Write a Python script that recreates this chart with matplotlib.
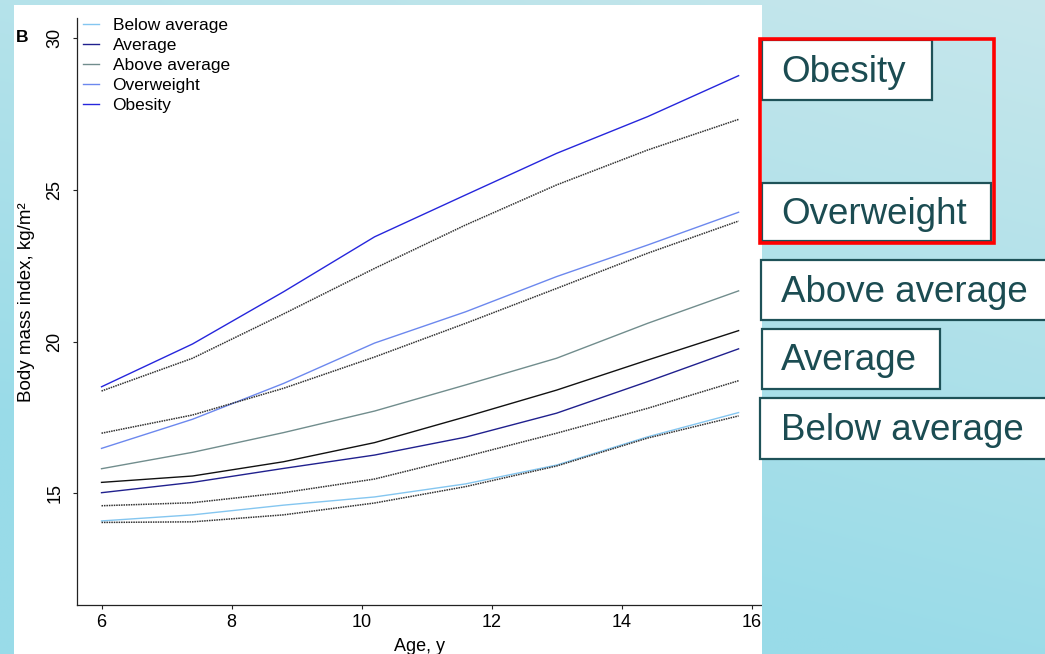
import numpy as np
import matplotlib
matplotlib.use("Agg")
import matplotlib.pyplot as plt
from matplotlib.patches import Rectangle

# ---------------- data ----------------
ages = [6.0, 7.4, 8.8, 10.2, 11.6, 13.0, 14.4, 15.8]

obesity        = [18.51, 19.92, 21.64, 23.45, 24.83, 26.20, 27.41, 28.76]
obesity_ref    = [18.37, 19.45, 20.91, 22.41, 23.84, 25.16, 26.31, 27.32]
overweight     = [16.48, 17.44, 18.62, 19.95, 20.98, 22.14, 23.18, 24.26]
overweight_ref = [16.98, 17.58, 18.46, 19.49, 20.60, 21.75, 22.91, 23.97]
above_average  = [15.81, 16.35, 17.00, 17.71, 18.57, 19.45, 20.60, 21.67]
overall_mean   = [15.36, 15.57, 16.04, 16.67, 17.52, 18.40, 19.39, 20.36]
average        = [15.02, 15.36, 15.82, 16.26, 16.85, 17.64, 18.68, 19.76]
average_ref    = [14.59, 14.69, 15.02, 15.47, 16.21, 16.98, 17.80, 18.71]
below_average  = [14.09, 14.29, 14.61, 14.88, 15.31, 15.93, 16.86, 17.66]
below_ref      = [14.04, 14.06, 14.29, 14.68, 15.22, 15.90, 16.82, 17.55]

legend_labels = ["Below average", "Average", "Above average", "Overweight", "Obesity"]
side_labels = ["Obesity", "Overweight", "Above average", "Average", "Below average"]
x_ticks = [6, 8, 10, 12, 14, 16]
y_ticks = [15, 20, 25, 30]

# ---------------- figure ----------------
W, H = 1045, 654
fig = plt.figure(figsize=(W / 100, H / 100), dpi=100)

REG = ["Liberation Sans", "DejaVu Sans"]
NARROW = ["Liberation Sans Narrow", "Liberation Sans", "DejaVu Sans"]

# gradient background
ny, nx = 160, 240
yy, xx = np.mgrid[0:1:ny * 1j, 0:1:nx * 1j]
t = np.clip(0.85 * yy + 0.35 * (1 - xx) + 0.1, 0, 1)[..., None]
c_light = np.array([0.80, 0.91, 0.925])
c_dark = np.array([0.60, 0.86, 0.91])
grad = c_light * (1 - t) + c_dark * t

bg = fig.add_axes([0, 0, 1, 1], zorder=0)
bg.imshow(grad, extent=(0, W, H, 0), aspect="auto", interpolation="bilinear")
bg.set_xlim(0, W)
bg.set_ylim(H, 0)
bg.axis("off")
bg.add_patch(Rectangle((14, 5), 762 - 14, H - 5, facecolor="white", edgecolor="none"))

# ---------------- main axes ----------------
ax_l, ax_r, ax_t, ax_b = 76.5, 762, 18, 605
ax = fig.add_axes([ax_l / W, 1 - ax_b / H, (ax_r - ax_l) / W, (ax_b - ax_t) / H], zorder=1)
ax.patch.set_alpha(0)

lw = 1.0
dot = (0, (1.0, 0.6))
ax.plot(ages, below_average, color="#84C6F0", lw=lw, label=legend_labels[0])
ax.plot(ages, average, color="#20208E", lw=lw, label=legend_labels[1])
ax.plot(ages, above_average, color="#718D8D", lw=lw, label=legend_labels[2])
ax.plot(ages, overweight, color="#6C88EE", lw=lw, label=legend_labels[3])
ax.plot(ages, obesity, color="#2626DC", lw=lw, label=legend_labels[4])
ax.plot(ages, overall_mean, color="#111111", lw=lw)
for ref in (obesity_ref, overweight_ref, average_ref, below_ref):
    ax.plot(ages, ref, color="#333333", lw=1.1, linestyle=dot)

ax.set_xlim(5.615, 16.16)
ax.set_ylim(11.32, 30.66)
ax.set_xticks(x_ticks)
ax.set_yticks(y_ticks)
for s in ("top", "right"):
    ax.spines[s].set_visible(False)
for s in ("left", "bottom"):
    ax.spines[s].set_linewidth(0.9)
    ax.spines[s].set_color("#222222")
ax.tick_params(axis="both", direction="out", length=3, width=0.8, color="#222222")
ax.tick_params(axis="x", pad=3.5)
ax.tick_params(axis="y", pad=6.5)
for lab in ax.get_xticklabels():
    lab.set_fontfamily(NARROW)
    lab.set_fontsize(13)
for lab in ax.get_yticklabels():
    lab.set_fontfamily(REG)
    lab.set_fontsize(13)
    lab.set_rotation(90)
    lab.set_va("center")

ax.set_xlabel("Age, y", fontfamily=NARROW, fontsize=13, labelpad=5)
ax.set_ylabel("Body mass index, kg/m²", fontfamily=REG, fontsize=13.5)
ax.yaxis.set_label_coords((35 - ax_l) / (ax_r - ax_l), (ax_b - 302) / (ax_b - ax_t))

leg = ax.legend(loc="upper left", bbox_to_anchor=(83 / W, 1 - 18 / H),
                bbox_transform=fig.transFigure, frameon=False,
                prop={"family": REG, "size": 12.5},
                handlelength=0.95, handletextpad=0.75, labelspacing=0.28,
                borderpad=0, borderaxespad=0)

fig.text(16 / W, 1 - 37.5 / H, "B", fontfamily=REG, fontweight="bold",
         fontsize=12.5, va="center", ha="left")

# ---------------- overlay (right side) ----------------
ov = fig.add_axes([0, 0, 1, 1], zorder=2)
ov.set_xlim(0, W)
ov.set_ylim(H, 0)
ov.axis("off")
im = ov.imshow(grad, extent=(0, W, H, 0), aspect="auto", interpolation="bilinear")
clip = Rectangle((762, 0), W - 762, H, transform=ov.transData)
im.set_clip_path(clip)
ov.set_xlim(0, W)
ov.set_ylim(H, 0)

edge = "#1E5258"
txtc = "#1B4C52"
boxes = [  # x0, x1, y0, y1, text center y
    (761.5, 931.5, 40, 100, 73),
    (762, 990.5, 182.5, 240.5, 215),
    (760.5, 1060, 259.5, 319.5, 293),
    (761.5, 940, 328.5, 389, 361),
    (760, 1060, 398, 458.5, 431),
]
for (x0, x1, y0, y1, yc), label in zip(boxes, side_labels):
    ov.add_patch(Rectangle((x0, y0), x1 - x0, y1 - y0, facecolor="white",
                           edgecolor=edge, lw=1.6))
    ov.text(781, yc, label, fontfamily=REG, fontsize=26.5, color=txtc,
            ha="left", va="center")

ov.add_patch(Rectangle((760, 39), 994 - 760, 243 - 39, facecolor="none",
                       edgecolor="#FF0000", lw=2.6))

fig.savefig("out.png", dpi=100)
